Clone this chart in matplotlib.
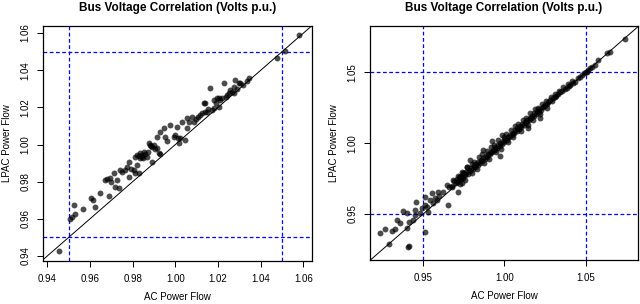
"""
Bus voltage correlation: LPAC vs AC power flow (two test cases side by side).
"""
import matplotlib
matplotlib.use('Agg')
import matplotlib.pyplot as plt

plt.rcParams['font.family'] = ['Liberation Sans', 'DejaVu Sans']

# Left case (AC voltage, LPAC voltage)
left_ac = [0.9455, 0.9507, 0.9516, 0.9531, 0.9527, 0.9567, 0.9605, 0.9614, 0.9622, 0.9645,
           0.9672, 0.9680, 0.9687, 0.9695, 0.9700, 0.9711, 0.9719, 0.9727, 0.9734, 0.9742,
           0.9750, 0.9766, 0.9772, 0.9781, 0.9781, 0.9790, 0.9805, 0.9813, 0.9821, 0.9828,
           0.9813, 0.9820, 0.9830, 0.9836, 0.9845, 0.9852, 0.9860, 0.9875, 0.9883, 0.9891,
           0.9891, 0.9900, 0.9905, 0.9914, 0.9914, 0.9922, 0.9930, 0.9930, 0.9945, 0.9953,
           0.9960, 0.9977, 1.0000, 1.0008, 1.0016, 1.0023, 1.0032, 1.0047, 1.0055, 1.0055,
           1.0065, 1.0078, 1.0086, 1.0095, 1.0105, 1.0117, 1.0125, 1.0133, 1.0141, 1.0149,
           1.0141, 1.0155, 1.0164, 1.0172, 1.0180, 1.0180, 1.0188, 1.0195, 1.0203, 1.0203,
           1.0211, 1.0219, 1.0227, 1.0235, 1.0242, 1.0250, 1.0258, 1.0265, 1.0273, 1.0273,
           1.0281, 1.0290, 1.0297, 1.0305, 1.0315, 1.0336, 1.0344, 1.0474, 1.0513, 1.0578,
           0.9835, 0.9842, 0.9867, 0.9870, 0.9995, 1.0010, 0.9885, 0.9848]
left_lpac = [0.9425, 0.9600, 0.9610, 0.9625, 0.9674, 0.9653, 0.9712, 0.9700, 0.9662, 0.9737,
             0.9807, 0.9812, 0.9723, 0.9818, 0.9800, 0.9845, 0.9773, 0.9809, 0.9764, 0.9863,
             0.9850, 0.9863, 0.9880, 0.9827, 0.9907, 0.9870, 0.9863, 0.9845, 0.9890, 0.9845,
             0.9934, 0.9945, 0.9940, 0.9953, 0.9935, 0.9961, 0.9950, 1.0007, 0.9997, 0.9907,
             0.9988, 1.0000, 0.9975, 1.0042, 0.9979, 0.9953, 1.0069, 0.9950, 1.0087, 1.0042,
             1.0020, 1.0105, 1.0051, 1.0096, 1.0007, 1.0033, 1.0123, 1.0024, 1.0087, 1.0141,
             1.0120, 1.0150, 1.0123, 1.0140, 1.0150, 1.0159, 1.0168, 1.0222, 1.0177, 1.0177,
             1.0222, 1.0190, 1.0303, 1.0186, 1.0240, 1.0195, 1.0222, 1.0250, 1.0204, 1.0250,
             1.0240, 1.0250, 1.0330, 1.0255, 1.0267, 1.0275, 1.0293, 1.0285, 1.0311, 1.0276,
             1.0347, 1.0300, 1.0330, 1.0329, 1.0320, 1.0344, 1.0356, 1.0467, 1.0505, 1.0590,
             0.9930, 0.9942, 0.9935, 0.9960, 1.0040, 1.0035, 0.9990, 0.9925]

# Right case (AC voltage, LPAC voltage)
right_ac = [0.9233, 0.9264, 0.9291, 0.9305, 0.9326, 0.9336, 0.9357, 0.9373, 0.9398, 0.9398,
            0.9404, 0.9414, 0.9414, 0.9438, 0.9449, 0.9455, 0.9449, 0.9480, 0.9490, 0.9510,
            0.9510, 0.9521, 0.9510, 0.9531, 0.9541, 0.9552, 0.9583, 0.9592, 0.9623, 0.9644,
            0.9650, 0.9675, 0.9706, 0.9716, 0.9726, 0.9736, 0.9746, 0.9767, 0.9560, 0.9570,
            0.9600,
            0.9660, 0.9680, 0.9690, 0.9700, 0.9705, 0.9715, 0.9720, 0.9730, 0.9735, 0.9745,
            0.9750, 0.9760, 0.9765, 0.9775, 0.9780, 0.9788, 0.9790, 0.9795, 0.9805, 0.9810,
            0.9820, 0.9825, 0.9835, 0.9840, 0.9850, 0.9855, 0.9866, 0.9865, 0.9870, 0.9880,
            0.9885, 0.9895, 0.9900, 0.9910, 0.9915, 0.9921, 0.9925, 0.9930, 0.9940, 0.9945,
            0.9955, 0.9960, 0.9970, 0.9972, 0.9975, 0.9983, 0.9985, 0.9990, 1.0000, 1.0005,
            1.0015, 1.0020, 1.0030, 1.0035, 1.0045, 1.0050, 1.0060, 1.0065, 1.0075, 1.0080,
            1.0090, 1.0095, 1.0105, 1.0110, 1.0120, 1.0125, 1.0135, 1.0140, 1.0147, 1.0150,
            1.0155, 1.0165, 1.0170, 1.0180, 1.0185, 1.0195, 1.0200, 1.0210, 1.0215, 1.0219,
            1.0225, 1.0235, 1.0245, 1.0249, 1.0260, 1.0270, 1.0280, 1.0290, 1.0300, 1.0311,
            1.0320, 1.0330, 1.0342, 1.0355, 1.0370, 1.0383, 1.0395, 1.0403, 1.0420, 1.0434,
            1.0450, 1.0465, 1.0475, 1.0490, 1.0500, 1.0506, 1.0515, 1.0526, 1.0540, 1.0557,
            1.0578, 1.0629, 1.0650, 1.0742,
            # extra spread around the main band
            0.9685, 0.9712, 0.9740, 0.9772, 0.9798, 0.9815, 0.9845, 0.9862, 0.9890, 0.9918,
            0.9935, 0.9962, 0.9995, 1.0010, 1.0040, 1.0068, 1.0085, 1.0112, 1.0130, 1.0158,
            1.0190, 1.0205, 1.0230, 1.0255, 1.0285, 1.0310, 1.0335, 1.0360, 1.0390, 1.0415,
            0.9728, 0.9758, 0.9802, 0.9832, 0.9875, 0.9905, 0.9950, 0.9980, 1.0025, 1.0055,
            1.0100, 1.0145, 1.0175, 1.0220, 1.0265]
right_lpac = [0.9368, 0.9392, 0.9286, 0.9380, 0.9392, 0.9458, 0.9439, 0.9523, 0.9505, 0.9403,
              0.9269, 0.9276, 0.9446, 0.9458, 0.9528, 0.9587, 0.9493, 0.9505, 0.9540, 0.9375,
              0.9564, 0.9552, 0.9622, 0.9516, 0.9599, 0.9646, 0.9599, 0.9657, 0.9657, 0.9705,
              0.9564, 0.9693, 0.9728, 0.9657, 0.9763, 0.9717, 0.9787, 0.9834, 0.9575, 0.9610,
              0.9630,
              0.9690, 0.9700, 0.9735, 0.9720, 0.9745, 0.9730, 0.9760, 0.9745, 0.9770, 0.9755,
              0.9790, 0.9775, 0.9795, 0.9785, 0.9810, 0.9881, 0.9800, 0.9825, 0.9815, 0.9840,
              0.9830, 0.9855, 0.9845, 0.9870, 0.9860, 0.9880, 0.9952, 0.9875, 0.9895, 0.9890,
              0.9910, 0.9905, 0.9925, 0.9920, 0.9940, 1.0015, 0.9935, 0.9955, 0.9950, 0.9970,
              0.9965, 0.9985, 0.9980, 0.9909, 1.0000, 1.0058, 0.9995, 1.0015, 1.0010, 1.0030,
              1.0025, 1.0045, 1.0040, 1.0060, 1.0055, 1.0075, 1.0070, 1.0090, 1.0085, 1.0105,
              1.0100, 1.0120, 1.0115, 1.0135, 1.0130, 1.0150, 1.0145, 1.0165, 1.0105, 1.0160,
              1.0180, 1.0175, 1.0195, 1.0190, 1.0210, 1.0205, 1.0225, 1.0220, 1.0240, 1.0175,
              1.0235, 1.0255, 1.0260, 1.0269, 1.0275, 1.0290, 1.0305, 1.0300, 1.0320, 1.0328,
              1.0335, 1.0345, 1.0363, 1.0365, 1.0385, 1.0387, 1.0405, 1.0411, 1.0425, 1.0434,
              1.0460, 1.0470, 1.0481, 1.0495, 1.0502, 1.0504, 1.0515, 1.0528, 1.0540, 1.0552,
              1.0587, 1.0638, 1.0645, 1.0733,
              0.9740, 0.9770, 0.9795, 0.9830, 0.9855, 0.9870, 0.9905, 0.9920, 0.9945, 0.9975,
              0.9990, 1.0020, 1.0045, 1.0065, 1.0090, 1.0120, 1.0135, 1.0165, 1.0180, 1.0210,
              1.0240, 1.0250, 1.0275, 1.0300, 1.0325, 1.0345, 1.0370, 1.0395, 1.0415, 1.0440,
              0.9712, 0.9742, 0.9788, 0.9815, 0.9860, 0.9888, 0.9935, 0.9962, 1.0008, 1.0040,
              1.0085, 1.0128, 1.0160, 1.0205, 1.0250]

left_ticks = [0.94, 0.96, 0.98, 1.00, 1.02, 1.04, 1.06]
right_ticks = [0.95, 1.00, 1.05]
limits = [0.95, 1.05]

fig = plt.figure(figsize=(6.4, 3.04), dpi=100)
ax1 = fig.add_axes([0.0672, 0.1414, 0.4203, 0.7731])
ax2 = fig.add_axes([0.578, 0.1447, 0.4188, 0.7698])

panels = [
    (ax1, left_ac, left_lpac, left_ticks, (0.938, 1.064), (0.9373, 1.0638)),
    (ax2, right_ac, right_lpac, right_ticks, (0.9172, 1.0822), (0.9175, 1.0827)),
]

for ax, xs, ys, ticks, xlim, ylim in panels:
    ax.scatter(xs, ys, s=18, color='black', alpha=0.7, linewidths=0, zorder=3)
    # identity line
    lo, hi = min(xlim[0], ylim[0]), max(xlim[1], ylim[1])
    ax.plot([lo, hi], [lo, hi], color='black', lw=0.7, zorder=2)
    # operating limits
    for v in limits:
        ax.axvline(v, color='#0000ff', ls=(0, (3, 2)), lw=0.9, zorder=1)
        ax.axhline(v, color='#0000ff', ls=(0, (3, 2)), lw=0.9, zorder=1)
    ax.set_xlim(xlim)
    ax.set_ylim(ylim)
    ax.set_xticks(ticks)
    ax.set_yticks(ticks)
    ax.set_xticklabels(['%.2f' % t for t in ticks])
    ax.set_yticklabels(['%.2f' % t for t in ticks], rotation=90, va='center')
    ax.tick_params(direction='out', length=4, width=0.7, labelsize=7, pad=5)
    for sp in ax.spines.values():
        sp.set_linewidth(0.9)
    ax.set_title('Bus Voltage Correlation (Volts p.u.)', fontsize=8.5,
                 fontweight='bold', pad=11)
    ax.set_xlabel('AC Power Flow', fontsize=7, labelpad=6)
    ax.set_ylabel('LPAC Power Flow', fontsize=7, labelpad=6)

fig.savefig('out.png', dpi=100, facecolor='white')
